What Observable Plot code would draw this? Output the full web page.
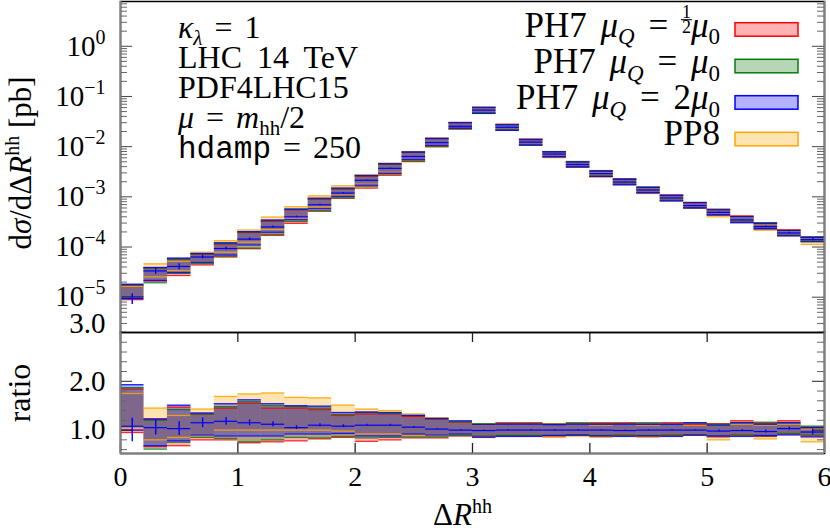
<!DOCTYPE html>
<html><head><meta charset="utf-8">
<script src="https://cdn.jsdelivr.net/npm/d3@7"></script>
<script src="https://cdn.jsdelivr.net/npm/@observablehq/plot@0.6"></script>
<style>
body{margin:0;background:#fff;}
#wrap{position:relative;width:830px;height:531px;overflow:hidden;background:#fff;}
#wrap svg{position:absolute;left:0;}
</style></head><body><div id="wrap"></div>
<script>
// ---------- data ----------
const binEdges = [0,0.2,0.4,0.6,0.8,1.0,1.2,1.4,1.6,1.8,2.0,2.2,2.4,2.6,2.8,3.0,3.2,3.4,3.6,3.8,4.0,4.2,4.4,4.6,4.8,5.0,5.2,5.4,5.6,5.8,6.0];
const refXsec = [9.4e-6,3.18e-5,3.98e-5,5.5e-5,7.9e-5,1.25e-4,2.24e-4,3.8e-4,6.3e-4,1.1e-3,1.94e-3,3.36e-3,6.0e-3,1.18e-2,2.55e-2,5.4e-2,2.43e-2,1.23e-2,7.1e-3,4.4e-3,2.9e-3,1.99e-3,1.37e-3,9.5e-4,6.7e-4,5.0e-4,3.5e-4,2.63e-4,1.85e-4,1.48e-4];
const seriesNames = ["PH7 muQ=1/2 mu0","PH7 muQ=mu0","PH7 muQ=2mu0","PP8"];
const seriesColors = ["#ff0000","#0b7a0b","#0000ff","#ffa500"];
const redLo    = [0.95,0.66,0.68,0.80,0.80,0.74,0.76,0.78,0.82,0.85,0.77,0.80,0.84,0.84,0.88,0.87,0.88,0.88,0.88,0.89,0.88,0.89,0.88,0.89,0.90,0.86,0.90,0.87,0.92,0.88];
const redHi    = [1.84,1.22,1.47,1.33,1.45,1.55,1.45,1.45,1.42,1.30,1.33,1.33,1.28,1.22,1.16,1.12,1.15,1.15,1.12,1.13,1.15,1.15,1.12,1.15,1.12,1.13,1.19,1.14,1.19,1.06];
const greenLo  = [1.07,0.61,0.75,0.85,0.83,0.76,0.80,0.85,0.84,0.87,0.84,0.85,0.86,0.86,0.89,0.88,0.89,0.89,0.89,0.90,0.89,0.90,0.89,0.90,0.90,0.88,0.90,0.88,0.93,0.90];
const greenHi  = [1.87,1.20,1.42,1.33,1.48,1.58,1.50,1.48,1.45,1.32,1.36,1.34,1.30,1.23,1.17,1.13,1.13,1.13,1.12,1.15,1.13,1.13,1.15,1.12,1.15,1.12,1.15,1.16,1.15,1.08];
const blueLo   = [1.08,0.68,0.78,0.90,0.88,0.88,0.88,0.92,0.92,0.93,0.88,0.88,0.92,0.90,0.92,0.85,0.87,0.87,0.89,0.90,0.88,0.87,0.88,0.87,0.90,0.88,0.87,0.89,0.90,0.86];
const blueHi   = [1.93,1.23,1.51,1.35,1.54,1.62,1.54,1.50,1.49,1.36,1.37,1.36,1.30,1.24,1.19,1.11,1.12,1.12,1.11,1.12,1.12,1.12,1.12,1.12,1.15,1.10,1.15,1.12,1.15,1.05];
const orangeLo = [1.00,0.80,0.85,0.90,1.00,1.00,1.00,1.00,1.00,0.98,0.92,0.92,0.90,0.90,0.89,0.87,0.88,0.88,0.85,0.88,0.85,0.88,0.85,0.88,0.89,0.80,0.88,0.82,0.91,0.76];
const orangeHi = [1.75,1.45,1.30,1.43,1.69,1.74,1.76,1.67,1.66,1.51,1.43,1.40,1.33,1.25,1.17,1.10,1.12,1.12,1.13,1.12,1.10,1.12,1.10,1.12,1.10,1.10,1.12,1.10,1.12,1.02];
const blueCentral = [1.0,1.05,1.03,1.15,1.18,1.15,1.12,1.05,1.10,1.08,1.10,1.10,1.06,1.02,1.0,0.99,1.0,1.0,1.0,1.0,1.0,0.99,1.0,1.0,1.0,0.98,0.99,0.97,1.03,0.96];
const blueErr = [0.24,0.15,0.14,0.10,0.08,0.06,0.05,0.04,0.03,0.03,0.02,0.02,0.015,0.01,0.01,0.01,0.01,0.01,0.01,0.01,0.01,0.01,0.01,0.01,0.01,0.02,0.02,0.03,0.03,0.06];

const yLabelTicks = [3e-6,1e-5,1e-4,1e-3,1e-2,1e-1,1];
const yTickLabels = ["3.0","10^−5","10^−4","10^−3","10^−2","10^−1","10^0"];
const yMajorTicks = [1e-5,1e-4,1e-3,1e-2,1e-1,1];
const ratioTicks = [1.0,2.0];
const ratioTickLabels = ["1.0","2.0"];
const ratioMinorTicks = [0.6,0.8,1.2,1.4,1.6,1.8,2.2,2.4,2.6,2.8];
const xTicks = [0,1,2,3,4,5,6];
const xTickLabels = ["0","1","2","3","4","5","6"];

// ---------- build ----------
const logMinor = [];
for (let e = -6; e <= 0; e++) for (let m = 2; m <= 9; m++) { const v = m * Math.pow(10, e); if (v > 1.98e-6 && v < 7.8) logMinor.push(v); }

function bandRows(lo, hi) {
  return lo.map((l, i) => ({x0: binEdges[i], x1: binEdges[i+1], ref: refXsec[i], lo: l, hi: hi[i]}));
}
const series = [
  {color: seriesColors[0], rows: bandRows(redLo, redHi)},
  {color: seriesColors[1], rows: bandRows(greenLo, greenHi)},
  {color: seriesColors[2], rows: bandRows(blueLo, blueHi)},
  {color: seriesColors[3], rows: bandRows(orangeLo, orangeHi)}
];
const drawOrder = [3, 0, 1, 2]; // PP8 first, blue last
const blueRows = blueCentral.map((c, i) => ({x0: binEdges[i], x1: binEdges[i+1], xc: (binEdges[i] + binEdges[i+1]) / 2, ref: refXsec[i], c, e: blueErr[i]}));

function bandMarks(base) {
  const marks = [];
  for (const k of drawOrder) { const s = series[k]; marks.push(Plot.rect(s.rows, {x1: "x0", x2: "x1", y1: d => base(d) * d.lo, y2: d => base(d) * d.hi, fill: s.color, fillOpacity: 0.3})); }
  for (const k of drawOrder) {
    const s = series[k];
    marks.push(Plot.ruleY(s.rows, {x1: "x0", x2: "x1", y: d => base(d) * d.hi, stroke: s.color, strokeWidth: 1.3, strokeOpacity: 0.85}));
    marks.push(Plot.ruleY(s.rows, {x1: "x0", x2: "x1", y: d => base(d) * d.lo, stroke: s.color, strokeWidth: 1.3, strokeOpacity: 0.85}));
  }
  marks.push(Plot.ruleY(blueRows, {x1: "x0", x2: "x1", y: d => base(d) * d.c, stroke: "#0000ff", strokeWidth: 1.2}));
  marks.push(Plot.ruleX(blueRows, {x: "xc", y1: d => base(d) * (d.c - d.e), y2: d => base(d) * (d.c + d.e), stroke: "#0000ff", strokeWidth: 1.4}));
  return marks;
}

const FW = 704; // frame width
const FONT = "Liberation Serif, Times New Roman, serif";
const wrap = document.getElementById("wrap");

const topPlot = Plot.plot({
  width: 830, height: 333, marginLeft: 120, marginRight: 6, marginTop: 1, marginBottom: 1,
  style: {fontFamily: FONT, fontSize: "29px", background: "transparent", overflow: "visible"},
  x: {domain: [0, 6], axis: null},
  y: {type: "log", domain: [1.98e-6, 7.8], axis: null},
  marks: [
    ...bandMarks(d => d.ref),
    Plot.ruleY(logMinor, {insetRight: FW - 7, stroke: "#666"}),
    Plot.ruleY(logMinor, {insetLeft: FW - 7, stroke: "#666"}),
    Plot.ruleY(yMajorTicks, {insetRight: FW - 12, stroke: "#444"}),
    Plot.ruleY(yMajorTicks, {insetLeft: FW - 12, stroke: "#444"}),
    Plot.text(yLabelTicks, {y: d => d, text: (d, i) => yTickLabels[i], frameAnchor: "left", textAnchor: "end", dx: -15, fontSize: 29, fill: "#000"}),
    Plot.frame({stroke: "#000", strokeWidth: 1.5}),
    Plot.ruleX([0, 6], {stroke: "#808080", strokeWidth: 2})
  ]
});
topPlot.style.top = "0px";
wrap.appendChild(topPlot);

const ratioPlot = Plot.plot({
  width: 830, height: 200, marginLeft: 120, marginRight: 6, marginTop: 1, marginBottom: 78,
  style: {fontFamily: FONT, fontSize: "29px", background: "transparent", overflow: "visible"},
  x: {domain: [0, 6], axis: null},
  y: {domain: [0.52, 3.0], axis: null},
  marks: [
    ...bandMarks(d => 1),
    Plot.ruleY(ratioMinorTicks, {insetRight: FW - 7, stroke: "#666"}),
    Plot.ruleY(ratioMinorTicks, {insetLeft: FW - 7, stroke: "#666"}),
    Plot.ruleY(ratioTicks, {insetRight: FW - 12, stroke: "#222"}),
    Plot.ruleY(ratioTicks, {insetLeft: FW - 12, stroke: "#222"}),
    Plot.ruleX(xTicks, {insetBottom: 121 - 10, stroke: "#222", strokeWidth: 1.3}),
    Plot.ruleX(xTicks, {insetTop: 121 - 10, stroke: "#222", strokeWidth: 1.3}),
    Plot.text(ratioTicks, {y: d => d, text: (d, i) => ratioTickLabels[i], frameAnchor: "left", textAnchor: "end", dx: -15, fontSize: 29, fill: "#000"}),
    Plot.text(xTicks, {x: d => d, text: (d, i) => xTickLabels[i], frameAnchor: "bottom", lineAnchor: "top", dy: 13, fontSize: 28, fill: "#000"}),
    Plot.frame({stroke: "#000", strokeWidth: 1.5}),
    Plot.ruleX([0, 6], {stroke: "#808080", strokeWidth: 2}),
    Plot.ruleY([0.52], {stroke: "#808080", strokeWidth: 2})
  ]
});
ratioPlot.style.top = "331px";
wrap.appendChild(ratioPlot);

// rich tick labels: 10^k with raised exponent
d3.select(topPlot).selectAll("text").each(function() {
  const s = this.textContent;
  const m = /^10\^(.*)$/.exec(s);
  if (!m) return;
  const t = d3.select(this);
  t.text(null);
  t.append("tspan").text("10");
  t.append("tspan").text(m[1]).attr("font-size", 20).attr("dy", -12);
});

// ---------- overlay text ----------
const ov = d3.select(wrap).append("svg").attr("width", 830).attr("height", 531).style("top", "0px").style("pointer-events", "none");
function rich(g, x, y, parts, {anchor = "start", size = 32, wordSpacing = 0} = {}) {
  const t = g.append("text").attr("x", x).attr("y", y).attr("text-anchor", anchor)
    .attr("font-size", size).attr("font-family", FONT).attr("fill", "#000");
  if (wordSpacing) t.attr("word-spacing", wordSpacing);
  let shift = 0;
  for (const p of parts) {
    const target = p.shift !== undefined ? p.shift : p.sub ? size * 0.22 : p.sup ? -size * 0.4 : 0;
    const s = t.append("tspan").text(p.t).attr("dy", target - shift);
    shift = target;
    if (p.sub || p.sup) s.attr("font-size", size * 0.7);
    if (p.size) s.attr("font-size", p.size);
    if (p.it) s.attr("font-style", "italic");
    if (p.mono) s.attr("font-family", "Liberation Mono, DejaVu Sans Mono, monospace");
    if (p.dx) s.attr("dx", p.dx);
  }
  return t;
}

// annotations
rich(ov, 178, 37.5, [{t: "κ", it: 1}, {t: "λ", it: 1, sub: 1, size: 21}, {t: " = 1", shift: 0}], {wordSpacing: 4});
rich(ov, 178, 67.5, [{t: "LHC 14 TeV"}], {wordSpacing: 7});
rich(ov, 178, 97.5, [{t: "PDF4LHC15"}]);
rich(ov, 178, 127.5, [{t: "μ", it: 1}, {t: " = "}, {t: "m", it: 1}, {t: "hh", sub: 1, size: 21}, {t: "/2", shift: 0}], {wordSpacing: 4});
rich(ov, 178, 157.5, [{t: "hdamp", mono: 1, size: 31}, {t: " = 250"}], {wordSpacing: 4});

// legend
const legY = [36.7, 73, 109, 145];
const legBoxY = [22.7, 59.3, 95.7, 132.3];
const L = {anchor: "end", size: 35, wordSpacing: 5};
const l1 = rich(ov, 720, legY[0], [{t: "PH7 "}, {t: "μ", it: 1}, {t: "Q", it: 1, sub: 1, size: 23}, {t: " = ", shift: 0},
  {t: "1", size: 18, shift: -19}, {t: "2", size: 18, shift: -3.5, dx: -9}, {t: "μ", it: 1, shift: 0}, {t: "0", sub: 1, size: 23}], L);
try {
  const n = l1.node();
  const a = n.getExtentOfChar(9), b = n.getExtentOfChar(10);
  const x0 = Math.min(a.x, b.x) - 1, x1 = Math.max(a.x + a.width, b.x + b.width) + 1;
  ov.append("line").attr("x1", x0).attr("x2", x1).attr("y1", legY[0] - 17).attr("y2", legY[0] - 17).attr("stroke", "#000").attr("stroke-width", 1.1);
} catch (e) {}
rich(ov, 720, legY[1], [{t: "PH7 "}, {t: "μ", it: 1}, {t: "Q", it: 1, sub: 1, size: 23}, {t: " = ", shift: 0}, {t: "μ", it: 1}, {t: "0", sub: 1, size: 23}], L);
rich(ov, 720, legY[2], [{t: "PH7 "}, {t: "μ", it: 1}, {t: "Q", it: 1, sub: 1, size: 23}, {t: " = 2", shift: 0}, {t: "μ", it: 1}, {t: "0", sub: 1, size: 23}], L);
rich(ov, 720, legY[3], [{t: "PP8"}], L);
seriesColors.forEach((c, i) => {
  ov.append("rect").attr("x", 735).attr("y", legBoxY[i]).attr("width", 63).attr("height", 13.5)
    .attr("fill", c).attr("fill-opacity", 0.3).attr("stroke", c).attr("stroke-width", 1.5);
});

// axis titles
const gy = ov.append("g").attr("transform", "translate(31,163) rotate(-90)");
rich(gy, 0, 0, [{t: "d"}, {t: "σ", it: 1}, {t: "/d"}, {t: "Δ"}, {t: "R", it: 1}, {t: "hh", sup: 1, size: 20}, {t: " [pb]", shift: 0}], {anchor: "middle", size: 31});
const gr = ov.append("g").attr("transform", "translate(30,393) rotate(-90)");
rich(gr, 0, 0, [{t: "ratio"}], {anchor: "middle", size: 32});
rich(ov, 433, 525, [{t: "Δ"}, {t: "R", it: 1}, {t: "hh", sup: 1, size: 20}], {size: 31});
</script>
</body></html>
